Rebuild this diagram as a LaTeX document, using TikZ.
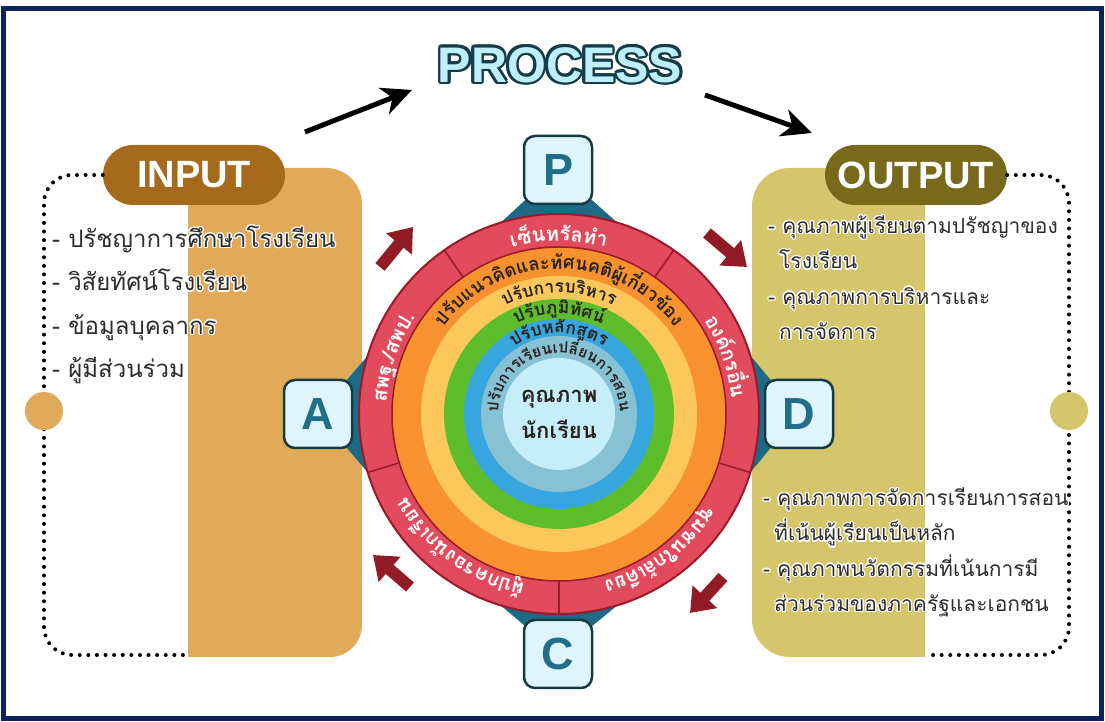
\documentclass[tikz,border=0pt]{standalone}
\usepackage{fontspec}
\setmainfont{Liberation Sans}
\newfontfamily\thaifont[Script=Thai]{Loma}
\usetikzlibrary{arrows.meta,decorations.text,positioning,calc}

\definecolor{framenavy}{HTML}{0C235A}
\definecolor{inputbrown}{HTML}{A66A1C}
\definecolor{inputtan}{HTML}{E0AA58}
\definecolor{outputolive}{HTML}{786A1A}
\definecolor{outputkhaki}{HTML}{D5C56B}
\definecolor{ringred}{HTML}{E14B5B}
\definecolor{ringline}{HTML}{9A1A2B}
\definecolor{arrowred}{HTML}{921C25}
\definecolor{ringorange}{HTML}{F7922E}
\definecolor{ringyellow}{HTML}{FCC85C}
\definecolor{ringgreen}{HTML}{5DBD2A}
\definecolor{ringblue}{HTML}{38A6DE}
\definecolor{ringgrey}{HTML}{86C1D4}
\definecolor{corecyan}{HTML}{C6EEF8}
\definecolor{boxfill}{HTML}{DFF5FB}
\definecolor{boxline}{HTML}{163B45}
\definecolor{boxletter}{HTML}{226D87}
\definecolor{wedgeteal}{HTML}{1C6A86}
\definecolor{processfill}{HTML}{BFEEFD}
\definecolor{processline}{HTML}{153C48}
\definecolor{itemtext}{HTML}{2D2D2D}
\definecolor{bandtext}{HTML}{2A2320}

% text with a coloured rim
\newcommand{\haloed}[3]{%
  \setbox0=\hbox{#3}%
  \foreach \haloang in {0,30,...,330}{%
    \rlap{\color{#1}\kern\fpeval{#2*cosd(\haloang)}pt\raise\fpeval{#2*sind(\haloang)}pt\copy0}}%
  \box0}
\newcommand{\redring}{\thaifont\bfseries\fontsize{20}{20}\selectfont\color{white}}
\newcommand{\bandfont}[1]{\thaifont\bfseries\fontsize{#1}{#1}\selectfont\color{bandtext}}

\begin{document}
\begin{tikzpicture}[x=1pt,y=1pt,
    pdca/.style={draw=boxline, fill=boxfill, line width=2.5pt, rounded corners=11pt,
      minimum size=68pt, inner sep=0pt, text=boxletter,
      font=\fontsize{45}{45}\selectfont\bfseries},
    labelpill/.style={rounded corners=30pt, minimum width=182pt, minimum height=60pt,
      text=white, font=\fontsize{38}{38}\selectfont\bfseries},
    item/.style={anchor=west, inner sep=0pt, text height=18pt, text depth=7pt,
      text=itemtext, font=\thaifont\fontsize{24}{24}\selectfont},
    outitem/.style={item, font=\thaifont\fontsize{21}{21}\selectfont},
    dots/.style={line width=4pt, line cap=round, dash pattern=on 0pt off 8.6pt},
    cyclearrow/.style={arrowred, line width=12pt, -{Triangle[length=22pt,width=32pt]}},
    flowarrow/.style={black, line width=5pt, -{Stealth[length=30pt,width=28pt,inset=9pt]}},
    ringtext/.style={decorate, decoration={text along path, text align=center, text={#1}}},
  ]
  \useasboundingbox (0,0) rectangle (1105,722);
  \draw[framenavy, line width=5pt] (3,3) rectangle (1101,713);

  % side panels
  \fill[inputtan] (188,65) -- (330,65) arc[start angle=-90, end angle=0, radius=32]
    -- (362,518) arc[start angle=0, end angle=90, radius=36] -- (188,554) -- cycle;
  \fill[outputkhaki] (925,65) -- (925,554) -- (790,554) arc[start angle=90, end angle=180, radius=38]
    -- (752,103) arc[start angle=180, end angle=270, radius=38] -- cycle;

  \node[labelpill, fill=inputbrown] (inpill) at (194,547) {INPUT};
  \node[labelpill, fill=outputolive] (outpill) at (916,547) {OUTPUT};

  \coordinate (inturn) at (44,547);
  \coordinate (inlow) at (44,67);
  \coordinate (inend) at (188,67);
  \coordinate (outturn) at (1069,547);
  \coordinate (outlow) at (1069,67);
  \coordinate (outend) at (925,67);
  \draw[dots, rounded corners=28pt] (inpill.west) -- (inturn) -- (inlow) -- (inend);
  \draw[dots, rounded corners=28pt] (outpill.east) -- (outturn) -- (outlow) -- (outend);
  \node[circle, fill=inputtan, minimum size=38pt] (inknob) at (44,311) {};
  \node[circle, fill=outputkhaki, minimum size=38pt] (outknob) at (1069,311) {};

  % input list
  \node[item] (in1) at (52,480) {\haloed{white}{1.3}{- ปรัชญาการศึกษาโรงเรียน}};
  \node[item, below=18pt of in1.south west, anchor=north west] (in2) {\haloed{white}{1.3}{- วิสัยทัศน์โรงเรียน}};
  \node[item, below=18pt of in2.south west, anchor=north west] (in3) {\haloed{white}{1.3}{- ข้อมูลบุคลากร}};
  \node[item, below=18pt of in3.south west, anchor=north west] (in4) {\haloed{white}{1.3}{- ผู้มีส่วนร่วม}};

  % output list
  \node[outitem] (out1) at (768,494) {\haloed{white}{1.3}{- คุณภาพผู้เรียนตามปรัชญาของ}};
  \node[outitem, below=10pt of out1.south west, anchor=north west, xshift=11pt] (out2) {\haloed{white}{1.3}{โรงเรียน}};
  \node[outitem, below=10pt of out2.south west, anchor=north west, xshift=-11pt] (out3) {\haloed{white}{1.3}{- คุณภาพการบริหารและ}};
  \node[outitem, below=10pt of out3.south west, anchor=north west, xshift=11pt] (out4) {\haloed{white}{1.3}{การจัดการ}};
  \node[outitem] (out5) at (763,222) {\haloed{white}{1.3}{- คุณภาพการจัดการเรียนการสอน}};
  \node[outitem, below=10pt of out5.south west, anchor=north west, xshift=11pt] (out6) {\haloed{white}{1.3}{ที่เน้นผู้เรียนเป็นหลัก}};
  \node[outitem, below=10pt of out6.south west, anchor=north west, xshift=-11pt] (out7) {\haloed{white}{1.3}{- คุณภาพนวัตกรรมที่เน้นการมี}};
  \node[outitem, below=10pt of out7.south west, anchor=north west, xshift=11pt] (out8) {\haloed{white}{1.3}{ส่วนร่วมของภาครัฐและเอกชน}};

  % title and flow
  \node[font=\fontsize{50}{50}\selectfont\bfseries, text=processfill] (process) at (560,657)
    {\haloed{processline}{2.6}{PROCESS}};
  \coordinate (fl1s) at (305,590);
  \coordinate (fl1e) at (412,632);
  \coordinate (fl2s) at (705,627);
  \coordinate (fl2e) at (812,589);
  \draw[flowarrow] (fl1s) -- (fl1e);
  \draw[flowarrow] (fl2s) -- (fl2e);

  % wheel
  \coordinate (O) at (559,308);
  \coordinate (pc) at (558,552);
  \coordinate (ac) at (318,308);
  \coordinate (cc) at (558,68);
  \coordinate (dc) at (799,308);
  \fill[wedgeteal] (pc) -- ($(O)+(73:200)$) -- ($(O)+(107:200)$) -- cycle;
  \fill[wedgeteal] (ac) -- ($(O)+(163:200)$) -- ($(O)+(197:200)$) -- cycle;
  \fill[wedgeteal] (cc) -- ($(O)+(253:200)$) -- ($(O)+(287:200)$) -- cycle;
  \fill[wedgeteal] (dc) -- ($(O)+(-17:200)$) -- ($(O)+(17:200)$) -- cycle;

  \draw[ringline, fill=ringred, line width=2pt] (O) circle[radius=200];
  \draw[ringline, fill=ringorange, line width=1.5pt] (O) circle[radius=167];
  \fill[ringyellow] (O) circle[radius=138];
  \fill[ringgreen] (O) circle[radius=115];
  \fill[ringblue] (O) circle[radius=95];
  \fill[ringgrey] (O) circle[radius=78];
  \fill[corecyan] (O) circle[radius=56];
  \foreach \a in {55,125,197,270,343}
    \draw[ringline, line width=1.5pt] ($(O)+(\a:167)$) -- ($(O)+(\a:200)$);

  \path[ringtext={|\redring|เ{ซ็}นท{รั}ล{ทำ}}] ($(O)+(125:173)$) arc[start angle=125, end angle=55, radius=173];
  \path[ringtext={|\redring|สพฐ./สพป.}] ($(O)+(197:173)$) arc[start angle=197, end angle=125, radius=173];
  \path[ringtext={|\redring|อง{ค์}กร{อื่}น}] ($(O)+(55:173)$) arc[start angle=55, end angle=-17, radius=173];
  \path[ringtext={|\redring|{ผู้}ปกครอง{นั}กเ{รี}ยน}] ($(O)+(270:173)$) arc[start angle=270, end angle=197, radius=173];
  \path[ringtext={|\redring|{ชุ}มชนใก{ล้}เ{คี}ยง}] ($(O)+(343:173)$) arc[start angle=343, end angle=270, radius=173];

  \path[ringtext={|\bandfont{18.5}|ป{รั}บแนว{คิ}ดและ{ทั}ศนค{ติ}{ผู้}เ{กี่}ยว{ข้}อง}] ($(O)+(165:145)$) arc[start angle=165, end angle=15, radius=145];
  \path[ringtext={|\bandfont{17.5}|ป{รั}บการบ{ริ}หาร}] ($(O)+(150:121)$) arc[start angle=150, end angle=30, radius=121];
  \path[ringtext={|\bandfont{17.5}|ป{รั}บ{ภู}{มิ}{ทั}ศ{น์}}] ($(O)+(150:100)$) arc[start angle=150, end angle=30, radius=100];
  \path[ringtext={|\bandfont{17.5}|ป{รั}บห{ลั}ก{สู}ตร}] ($(O)+(160:81)$) arc[start angle=160, end angle=20, radius=81];
  \path[ringtext={|\bandfont{15.5}|ป{รั}บการเ{รี}ยนเป{ลี่}ยนการสอน}] ($(O)+(215:61)$) arc[start angle=215, end angle=-35, radius=61];

  \node[font=\thaifont\bfseries\fontsize{22}{36}\selectfont, align=center, text=bandtext] (core) at (O) {คุณภาพ\\นักเรียน};

  % PDCA boxes
  \node[pdca] (P) at (pc) {P};
  \node[pdca] (A) at (ac) {A};
  \node[pdca] (C) at (cc) {C};
  \node[pdca] (D) at (dc) {D};

  \coordinate (ar1s) at (380,455);
  \coordinate (ar1e) at (413,495);
  \coordinate (ar2s) at (707,489);
  \coordinate (ar2e) at (747,455);
  \coordinate (ar3s) at (723,145);
  \coordinate (ar3e) at (690,109);
  \coordinate (ar4s) at (410,135);
  \coordinate (ar4e) at (373,167);
  \draw[cyclearrow] (ar1s) -- (ar1e);
  \draw[cyclearrow] (ar2s) -- (ar2e);
  \draw[cyclearrow] (ar3s) -- (ar3e);
  \draw[cyclearrow] (ar4s) -- (ar4e);
\end{tikzpicture}
\end{document}
